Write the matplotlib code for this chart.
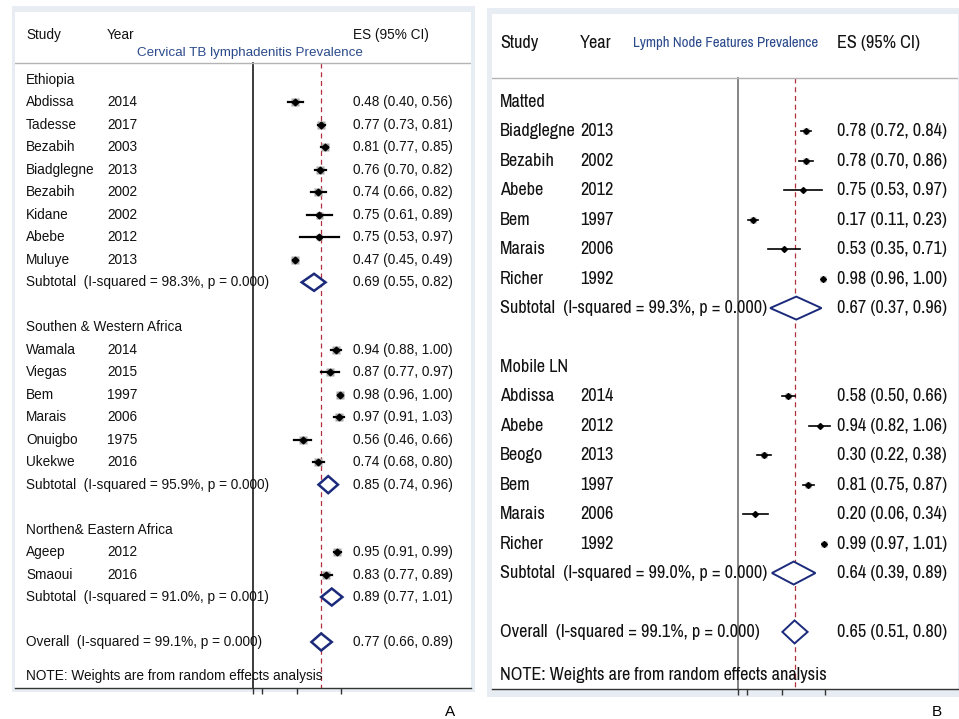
import os
import matplotlib.pyplot as plt
from matplotlib import font_manager as fm
from matplotlib.patches import Rectangle

W, H = 959, 719

# ---- Panel A: cervical TB lymphadenitis prevalence by region ----
a_groups = ["Ethiopia", "Southen & Western Africa", "Northen& Eastern Africa"]
a_study = ["Abdissa", "Tadesse", "Bezabih", "Biadglegne", "Bezabih", "Kidane", "Abebe", "Muluye",
           "Wamala", "Viegas", "Bem", "Marais", "Onuigbo", "Ukekwe",
           "Ageep", "Smaoui"]
a_year = [2014, 2017, 2003, 2013, 2002, 2002, 2012, 2013,
          2014, 2015, 1997, 2006, 1975, 2016,
          2012, 2016]
a_group = [0] * 8 + [1] * 6 + [2] * 2
a_es = [0.48, 0.77, 0.81, 0.76, 0.74, 0.75, 0.75, 0.47,
        0.94, 0.87, 0.98, 0.97, 0.56, 0.74,
        0.95, 0.83]
a_lo = [0.40, 0.73, 0.77, 0.70, 0.66, 0.61, 0.53, 0.45,
        0.88, 0.77, 0.96, 0.91, 0.46, 0.68,
        0.91, 0.77]
a_hi = [0.56, 0.81, 0.85, 0.82, 0.82, 0.89, 0.97, 0.49,
        1.00, 0.97, 1.00, 1.03, 0.66, 0.80,
        0.99, 0.89]
a_wt = [6.3, 6.5, 6.5, 6.4, 6.2, 5.6, 4.6, 6.7,
        6.2, 5.9, 6.7, 6.4, 6.0, 6.3,
        6.5, 6.3]
a_sub_es = [0.69, 0.85, 0.89]
a_sub_lo = [0.55, 0.74, 0.77]
a_sub_hi = [0.82, 0.96, 1.01]
a_sub_i2 = ["98.3%", "95.9%", "91.0%"]
a_sub_p = ["0.000", "0.000", "0.001"]
a_all = [0.77, 0.66, 0.89]
a_all_i2, a_all_p = "99.1%", "0.000"

# ---- Panel B: lymph node features prevalence ----
b_groups = ["Matted", "Mobile LN"]
b_study = ["Biadglegne", "Bezabih", "Abebe", "Bem", "Marais", "Richer",
           "Abdissa", "Abebe", "Beogo", "Bem", "Marais", "Richer"]
b_year = [2013, 2002, 2012, 1997, 2006, 1992,
          2014, 2012, 2013, 1997, 2006, 1992]
b_group = [0] * 6 + [1] * 6
b_es = [0.78, 0.78, 0.75, 0.17, 0.53, 0.98,
        0.58, 0.94, 0.30, 0.81, 0.20, 0.99]
b_lo = [0.72, 0.70, 0.53, 0.11, 0.35, 0.96,
        0.50, 0.82, 0.22, 0.75, 0.06, 0.97]
b_hi = [0.84, 0.86, 0.97, 0.23, 0.71, 1.00,
        0.66, 1.06, 0.38, 0.87, 0.34, 1.01]
b_wt = [5.0, 4.8, 3.8, 5.0, 4.0, 5.2,
        4.6, 4.2, 4.6, 4.8, 4.2, 5.2]
b_sub_es = [0.67, 0.64]
b_sub_lo = [0.37, 0.39]
b_sub_hi = [0.96, 0.89]
b_sub_i2 = ["99.3%", "99.0%"]
b_sub_p = ["0.000", "0.000"]
b_all = [0.65, 0.51, 0.80]
b_all_i2, b_all_p = "99.1%", "0.000"

NAVY = "#1b2a7a"
BORDER = "#e7edf2"

fig = plt.figure(figsize=(W / 100, H / 100), dpi=100)
fig.patch.set_facecolor("white")
renderer = fig.canvas.get_renderer()


def narrow_font():
    """Look for a narrow/condensed regular sans face; None if there is none."""
    order = {"narrow": 0, "condensed": 1, "semi-condensed": 2, "extra-condensed": 3}
    best, best_rank = None, 99
    for f in fm.fontManager.ttflist:
        nm = f.name.lower()
        fn = os.path.basename(f.fname).lower()
        if f.style != "normal" or f.weight not in (400, "normal", "regular", "book"):
            continue
        if "mono" in nm or ("serif" in nm and "sans" not in nm):
            continue
        if any(k in fn for k in ("bold", "light", "thin", "black", "medium", "italic", "semibold")):
            continue
        st = str(f.stretch).lower()
        if "narrow" in nm or "narrow" in fn:
            rank = 0
        elif st in order:
            rank = order[st]
        elif "semicondensed" in fn or "semi condensed" in nm:
            rank = 2
        elif "condensed" in nm or "condensed" in fn:
            rank = 1
        else:
            continue
        if rank < best_rank:
            best, best_rank = f.fname, rank
    return best


def fit_size(base, sample, target_px):
    p = base.copy()
    p.set_size(10)
    w, _, _ = renderer.get_text_width_height_descent(sample, p, ismath=False)
    return 10 * target_px / w


def fit_prop(base, samples):
    """Copy of base font sized so the sample strings get their measured widths."""
    sizes = [fit_size(base, s, w) for s, w in samples]
    p = base.copy()
    p.set_size(sum(sizes) / len(sizes))
    return p


def px_axes(x0, y0, x1, y1):
    return fig.add_axes([x0 / W, 1 - y1 / H, (x1 - x0) / W, (y1 - y0) / H])


def border(x0, y0, x1, y1):
    fig.add_artist(Rectangle((x0 / W, 1 - y1 / H), (x1 - x0) / W, (y1 - y0) / H,
                             transform=fig.transFigure, facecolor=BORDER,
                             edgecolor="none", zorder=0))


def forest(ax, st):
    groups, study, year, grp = st["groups"], st["study"], st["year"], st["grp"]
    es, lo, hi, wt = st["es"], st["lo"], st["hi"], st["wt"]
    fp = st["prop"]
    cols = st["cols"]
    dh = st["dh"]

    def txt(x, y, s, **kw):
        ax.text(x, y, s, fontproperties=fp, va="center", color="#111111", **kw)

    # row layout: group header, studies, subtotal, blank line
    r = 0
    for g in range(len(groups)):
        txt(cols[0], r, groups[g])
        r += 1
        for i in [k for k in range(len(study)) if grp[k] == g]:
            txt(cols[0], r, study[i])
            txt(cols[1], r, str(year[i]))
            txt(cols[2], r, f"{es[i]:.2f} ({lo[i]:.2f}, {hi[i]:.2f})")
            ax.plot(es[i], r, marker="s", ms=wt[i] * st["box"], color="#a8a8a8",
                    mec="none", zorder=2)
            ax.plot([lo[i], hi[i]], [r, r], color="black", lw=st["cilw"], zorder=3)
            ax.plot(es[i], r, marker="D", ms=st["dot"], color="black", zorder=4)
            r += 1
        s_es, s_lo, s_hi = st["sub_es"][g], st["sub_lo"][g], st["sub_hi"][g]
        txt(cols[0], r, f"Subtotal  (I-squared = {st['sub_i2'][g]}, p = {st['sub_p'][g]})",
            zorder=5)
        txt(cols[2], r, f"{s_es:.2f} ({s_lo:.2f}, {s_hi:.2f})")
        ax.fill([s_lo, s_es, s_hi, s_es], [r, r - dh, r, r + dh],
                facecolor="white", edgecolor=NAVY, lw=st["dlw"], zorder=4)
        r += 2

    o_es, o_lo, o_hi = st["all"]
    txt(cols[0], r, f"Overall  (I-squared = {st['all_i2']}, p = {st['all_p']})", zorder=5)
    txt(cols[2], r, f"{o_es:.2f} ({o_lo:.2f}, {o_hi:.2f})")
    ax.fill([o_lo, o_es, o_hi, o_es], [r, r - dh, r, r + dh],
            facecolor="white", edgecolor=NAVY, lw=st["dlw"], zorder=4)
    txt(cols[0], r + st["note_dy"], "NOTE: Weights are from random effects analysis", zorder=5)

    # header
    hy = st["head_y"]
    txt(cols[0], hy, "Study")
    txt(cols[1], hy, "Year")
    txt(cols[2], hy, "ES (95% CI)")
    tx, ty, tha = st["title_pos"]
    ax.text(tx, ty, st["title"], fontproperties=st["title_prop"], va="center", ha=tha,
            color="#2b4a8c")
    ax.axhline(st["line_y"], color="#b4b4b4", lw=1.0)

    ybot = ax.get_ylim()[0]
    ax.plot([0, 0], [st["line_y"], ybot], color=st["null_c"], lw=1.2,
            clip_on=False, zorder=1)
    ax.plot([o_es, o_es], [st["line_y"], ybot], color="#b0303c", lw=0.9,
            ls=(0, (4, 3)), zorder=1)

    ax.set_facecolor("white")
    for s in ["top", "left", "right"]:
        ax.spines[s].set_visible(False)
    ax.spines["bottom"].set_color("#333333")
    ax.spines["bottom"].set_linewidth(1.0)
    ax.set_xticks([0, 0.1, 0.5, 1])
    ax.set_xticklabels([])
    ax.tick_params(axis="x", direction="out", length=4, width=1.0, color="#333333")
    ax.set_yticks([])


# fonts: Arial-like for A, narrow face for B (falls back to regular)
arial = fm.FontProperties(family=["Liberation Sans", "DejaVu Sans"])
nf = narrow_font()
narrow = fm.FontProperties(fname=nf) if nf else arial

propA = fit_prop(arial, [("0.48 (0.40, 0.56)", 101), ("Biadglegne", 67),
                         ("Subtotal  (I-squared = 98.3%, p = 0.000)", 246)])
titleA = fit_prop(arial, [("Cervical TB lymphadenitis Prevalence", 226)])
propB = fit_prop(narrow, [("0.78 (0.72, 0.84)", 113), ("Biadglegne", 73),
                          ("Subtotal  (I-squared = 99.3%, p = 0.000)", 266)])
titleB = fit_prop(narrow, [("Lymph Node Features Prevalence", 187)])

# panel frames
border(12, 6, 475, 692)
border(487, 8, 959, 697)

# Panel A axes: white region x 15..471, y 12..688; zero at x=253, 88.5 px per unit
axA = px_axes(15, 12, 471, 688)
axA.set_xlim((15 - 253) / 88.5, (471 - 253) / 88.5)
axA.set_ylim((688 - 80) / 22.48, (12 - 80) / 22.48)
forest(axA, dict(
    groups=a_groups, study=a_study, year=a_year, grp=a_group,
    es=a_es, lo=a_lo, hi=a_hi, wt=a_wt,
    sub_es=a_sub_es, sub_lo=a_sub_lo, sub_hi=a_sub_hi, sub_i2=a_sub_i2, sub_p=a_sub_p,
    all=a_all, all_i2=a_all_i2, all_p=a_all_p,
    prop=propA, title_prop=titleA,
    cols=[(26 - 253) / 88.5, (107 - 253) / 88.5, (353 - 253) / 88.5],
    dh=0.38, box=0.9, dot=3.4, cilw=1.6, dlw=1.8, note_dy=1.5,
    head_y=-2.0, line_y=(63 - 80) / 22.48,
    title="Cervical TB lymphadenitis Prevalence",
    title_pos=((250 - 253) / 88.5, -1.2, "center"),
    null_c="#1a1a1a"))

# Panel B axes: white region x 492..958, y 14..689; zero at x=738, 87 px per unit
axB = px_axes(492, 14, 958, 689)
axB.set_xlim((492 - 738) / 87, (958 - 738) / 87)
axB.set_ylim((689 - 102) / 29.44, (14 - 102) / 29.44)
forest(axB, dict(
    groups=b_groups, study=b_study, year=b_year, grp=b_group,
    es=b_es, lo=b_lo, hi=b_hi, wt=b_wt,
    sub_es=b_sub_es, sub_lo=b_sub_lo, sub_hi=b_sub_hi, sub_i2=b_sub_i2, sub_p=b_sub_p,
    all=b_all, all_i2=b_all_i2, all_p=b_all_p,
    prop=propB, title_prop=titleB,
    cols=[(500 - 738) / 87, (580 - 738) / 87, (837 - 738) / 87],
    dh=0.39, box=0.8, dot=3.0, cilw=1.2, dlw=1.4, note_dy=1.46,
    head_y=-2.0, line_y=(78 - 102) / 29.44,
    title="Lymph Node Features Prevalence",
    title_pos=((633 - 738) / 87, -2.0, "left"),
    null_c="#6e6e6e"))

fig.text(450 / W, 1 - 712 / H, "A", fontsize=11, family="Liberation Sans",
         ha="center", va="center")
fig.text(937 / W, 1 - 712 / H, "B", fontsize=11, family="Liberation Sans",
         ha="center", va="center")

fig.savefig("out.png", dpi=100)
